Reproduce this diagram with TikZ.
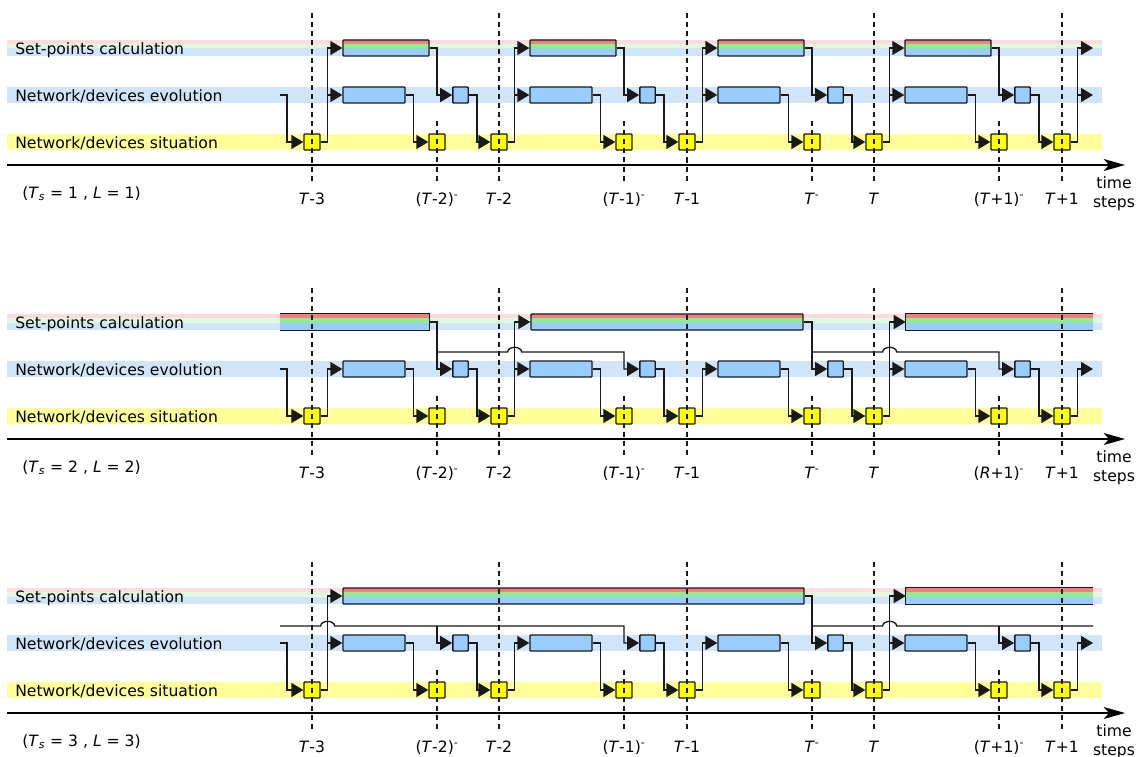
\documentclass[tikz,border=0pt]{standalone}
\usepackage{fontspec}
\setmainfont{DejaVu Sans}
\usetikzlibrary{arrows.meta, calc, positioning}
\definecolor{spRed}{HTML}{F08080}
\definecolor{spGreen}{HTML}{90EE90}
\definecolor{spBlue}{HTML}{99CCFF}
\definecolor{bandRed}{HTML}{FCDCDC}
\definecolor{bandGreen}{HTML}{E0FAE0}
\definecolor{bandBlue}{HTML}{D0E4FA}
\definecolor{bandYellow}{HTML}{FFFF99}
\definecolor{sitYellow}{HTML}{FFFF00}

\tikzset{
  cellbox/.style={draw=black!90, line width=1pt, inner sep=0pt, minimum height=12pt, rounded corners=0.6pt},
  sitbox/.style={cellbox, fill=sitYellow, minimum width=12pt},
  evobox/.style={cellbox, fill=spBlue, minimum width=46.5pt},
  smallbox/.style={cellbox, fill=spBlue, minimum width=11.5pt},
  setfill/.style={inner sep=0pt, minimum height=12pt, fill=spBlue,
    path picture={
      \fill[spRed] (path picture bounding box.north west) rectangle ([yshift=-3pt]path picture bounding box.north east);
      \fill[spGreen] ([yshift=-3pt]path picture bounding box.north west) rectangle ([yshift=-6.4pt]path picture bounding box.north east);
    }},
  setbox/.style={setfill, cellbox},
  wire/.style={line width=1pt, draw=black!90},
  flow/.style={wire, -{Triangle[length=9pt, width=10.5pt]}},
  timeaxis/.style={line width=1.1pt, -{Stealth[length=16pt, width=9pt, inset=4pt]}},
  timeline/.style={line width=1.1pt, black!90, dash pattern=on 3.75pt off 3pt},
  rowlabel/.style={anchor=base west, inner sep=0pt},
  steplabel/.style={anchor=base, inner sep=0pt},
}

% rows, boxes and the flows every case shares
\newcommand{\panelbase}[1]{%
  % bands
  \fill[bandRed] (7,40) rectangle (1102,44);
  \fill[bandGreen] (7,44) rectangle (1102,48.5);
  \fill[bandBlue] (7,48.5) rectangle (1102,56);
  \fill[bandBlue] (7,87) rectangle (1102,103);
  \fill[bandYellow] (7,134) rectangle (1102,150);
  % row names
  \node[rowlabel] (row-set) at (15,54.5) {Set-points calculation};
  \node[rowlabel] (row-evo) at (15,101.5) {Network/devices evolution};
  \node[rowlabel] (row-sit) at (15,148) {Network/devices situation};
  % time axis
  \coordinate (ax-start) at (7,165);
  \coordinate (ax-end) at (1125,165);
  \draw[timeaxis] (ax-start) -- (ax-end);
  \node[steplabel] (time) at (1114,188) {time};
  \node[steplabel] (steps) at (1114,207) {steps};
  \node[rowlabel] (case) at (22,198) {(\textit{T}\textsubscript{\textit{s}} = #1 , \textit{L} = #1)};
  % boxes
  \foreach \k in {0,...,4}
    \node[sitbox] (sit-\k) at ({312+int(187.5*\k)},142) {};
  \foreach \k in {0,...,3} {
    \node[sitbox] (sitm-\k) at ({437+int(187.5*\k)},142) {};
    \node[evobox] (evo-\k) at ({374+int(187.5*\k)},95) {};
    \node[smallbox] (sml-\k) at ({460.5+int(187.5*\k)},95) {};
  }
  \coordinate (hopy) at (0,78);
  \coordinate (feed) at (280,95);
  \coordinate (evo-end) at (1093,95);
  % flows
  \draw[flow] (feed) -- ++(7,0) |- (sit-0.west);
  \foreach \k [count=\n from 1] in {0,...,3} {
    \coordinate (up-\k) at ($(sit-\k.east)+(7,0)$);
    \draw[flow] (sit-\k.east) -- (up-\k) |- (evo-\k.west);
    \draw[flow] (evo-\k.east) -- ++(8,0) |- (sitm-\k.west);
    \draw[flow] (sml-\k.east) -- ++(8,0) |- (sit-\n.west);
  }
  \coordinate (up-4) at ($(sit-4.east)+(7,0)$);
  \draw[flow] (sit-4.east) -- (up-4) |- (evo-end);
}

% dashed time marks and their names
\newcommand{\paneltimes}[1]{%
  \coordinate (top) at (0,13.5);
  \coordinate (topm) at (0,121.5);
  \coordinate (bot) at (0,182);
  \coordinate (laby) at (0,204);
  \foreach \k/\lab in {0/{\textit{T}-3}, 1/{\textit{T}-2}, 2/{\textit{T}-1}, 3/{\textit{T}}, 4/{\textit{T}+1}} {
    \draw[timeline] (sit-\k |- top) -- (sit-\k |- bot);
    \node[steplabel] (lab-\k) at (sit-\k |- laby) {\lab};
  }
  \foreach \k/\lab in {0/{(\textit{T}-2)\textsuperscript{-}}, 1/{(\textit{T}-1)\textsuperscript{-}}, 2/{\textit{T}\textsuperscript{-}}, 3/{(\textit{#1}+1)\textsuperscript{-}}} {
    \draw[timeline] (sitm-\k |- topm) -- (sitm-\k |- bot);
    \node[steplabel] (labm-\k) at (sitm-\k |- laby) {\lab};
  }
}

\begin{document}
\begin{tikzpicture}[x=0.75pt, y=-0.75pt, font=\fontsize{11.7}{14}\selectfont]
\useasboundingbox (0,0) rectangle (1141,756);

% Ts = 1, L = 1
\begin{scope}
  \panelbase{1}
  \foreach \k in {0,...,3} {
    \node[setbox, minimum width=64.5pt] (set-\k) at ({386+int(187.5*\k)},48) {};
    \draw[flow] (up-\k) |- (set-\k.west);
    \draw[flow] (set-\k.east) -| (sitm-\k |- sml-\k) -- (sml-\k.west);
  }
  \coordinate (set-end) at (1093,48);
  \draw[flow] (up-4) |- (set-end);
  \paneltimes{T}
\end{scope}

% Ts = 2, L = 2
\begin{scope}[shift={(0,274)}]
  \panelbase{2}
  \node[setfill, minimum width=111.75pt] (set-a) at (354.5,48) {};
  \draw[wire] (set-a.north west) -- (set-a.north east) -- (set-a.south east) -- (set-a.south west);
  \node[setbox, minimum width=204pt] (set-b) at (667,48) {};
  \node[setfill, minimum width=140.25pt] (set-c) at (999.5,48) {};
  \draw[wire] (set-c.north east) -- (set-c.north west) -- (set-c.south west) -- (set-c.south east);
  \draw[flow] (up-1) |- (set-b.west);
  \draw[flow] (up-3) |- (set-c.west);
  \draw[flow] (set-a.east) -| (sitm-0 |- sml-0) -- (sml-0.west);
  \draw[flow] (sitm-0 |- hopy) -- ($(up-1 |- hopy)+(-7,0)$)
    arc[start angle=180, end angle=0, x radius=5.25pt, y radius=3.5pt]
    -- (sitm-1 |- hopy) |- (sml-1.west);
  \draw[flow] (set-b.east) -| (sitm-2 |- sml-2) -- (sml-2.west);
  \draw[flow] (sitm-2 |- hopy) -- ($(up-3 |- hopy)+(-7,0)$)
    arc[start angle=180, end angle=0, x radius=5.25pt, y radius=3.5pt]
    -- (sitm-3 |- hopy) |- (sml-3.west);
  \paneltimes{R}
\end{scope}

% Ts = 3, L = 3
\begin{scope}[shift={(0,548)}]
  \panelbase{3}
  \node[setbox, minimum width=345.75pt] (set-a) at (573.5,48) {};
  \node[setfill, minimum width=140.25pt] (set-b) at (999.5,48) {};
  \draw[wire] (set-b.north east) -- (set-b.north west) -- (set-b.south west) -- (set-b.south east);
  \draw[flow] (up-0) |- (set-a.west);
  \draw[flow] (up-3) |- (set-b.west);
  \coordinate (feed-set) at (280,78);
  \coordinate (hop-end) at (1093,78);
  \draw[flow] (feed-set) -- ($(up-0 |- hopy)+(-7,0)$)
    arc[start angle=180, end angle=0, x radius=5.25pt, y radius=3.5pt]
    -- (sitm-1 |- hopy) |- (sml-1.west);
  \draw[flow] (sitm-0 |- hopy) |- (sml-0.west);
  \draw[flow] (set-a.east) -| (sitm-2 |- sml-2) -- (sml-2.west);
  \draw[wire] (sitm-2 |- hopy) -- ($(up-3 |- hopy)+(-7,0)$)
    arc[start angle=180, end angle=0, x radius=5.25pt, y radius=3.5pt]
    -- (hop-end);
  \draw[flow] (sitm-3 |- hopy) |- (sml-3.west);
  \paneltimes{T}
\end{scope}
\end{tikzpicture}
\end{document}
